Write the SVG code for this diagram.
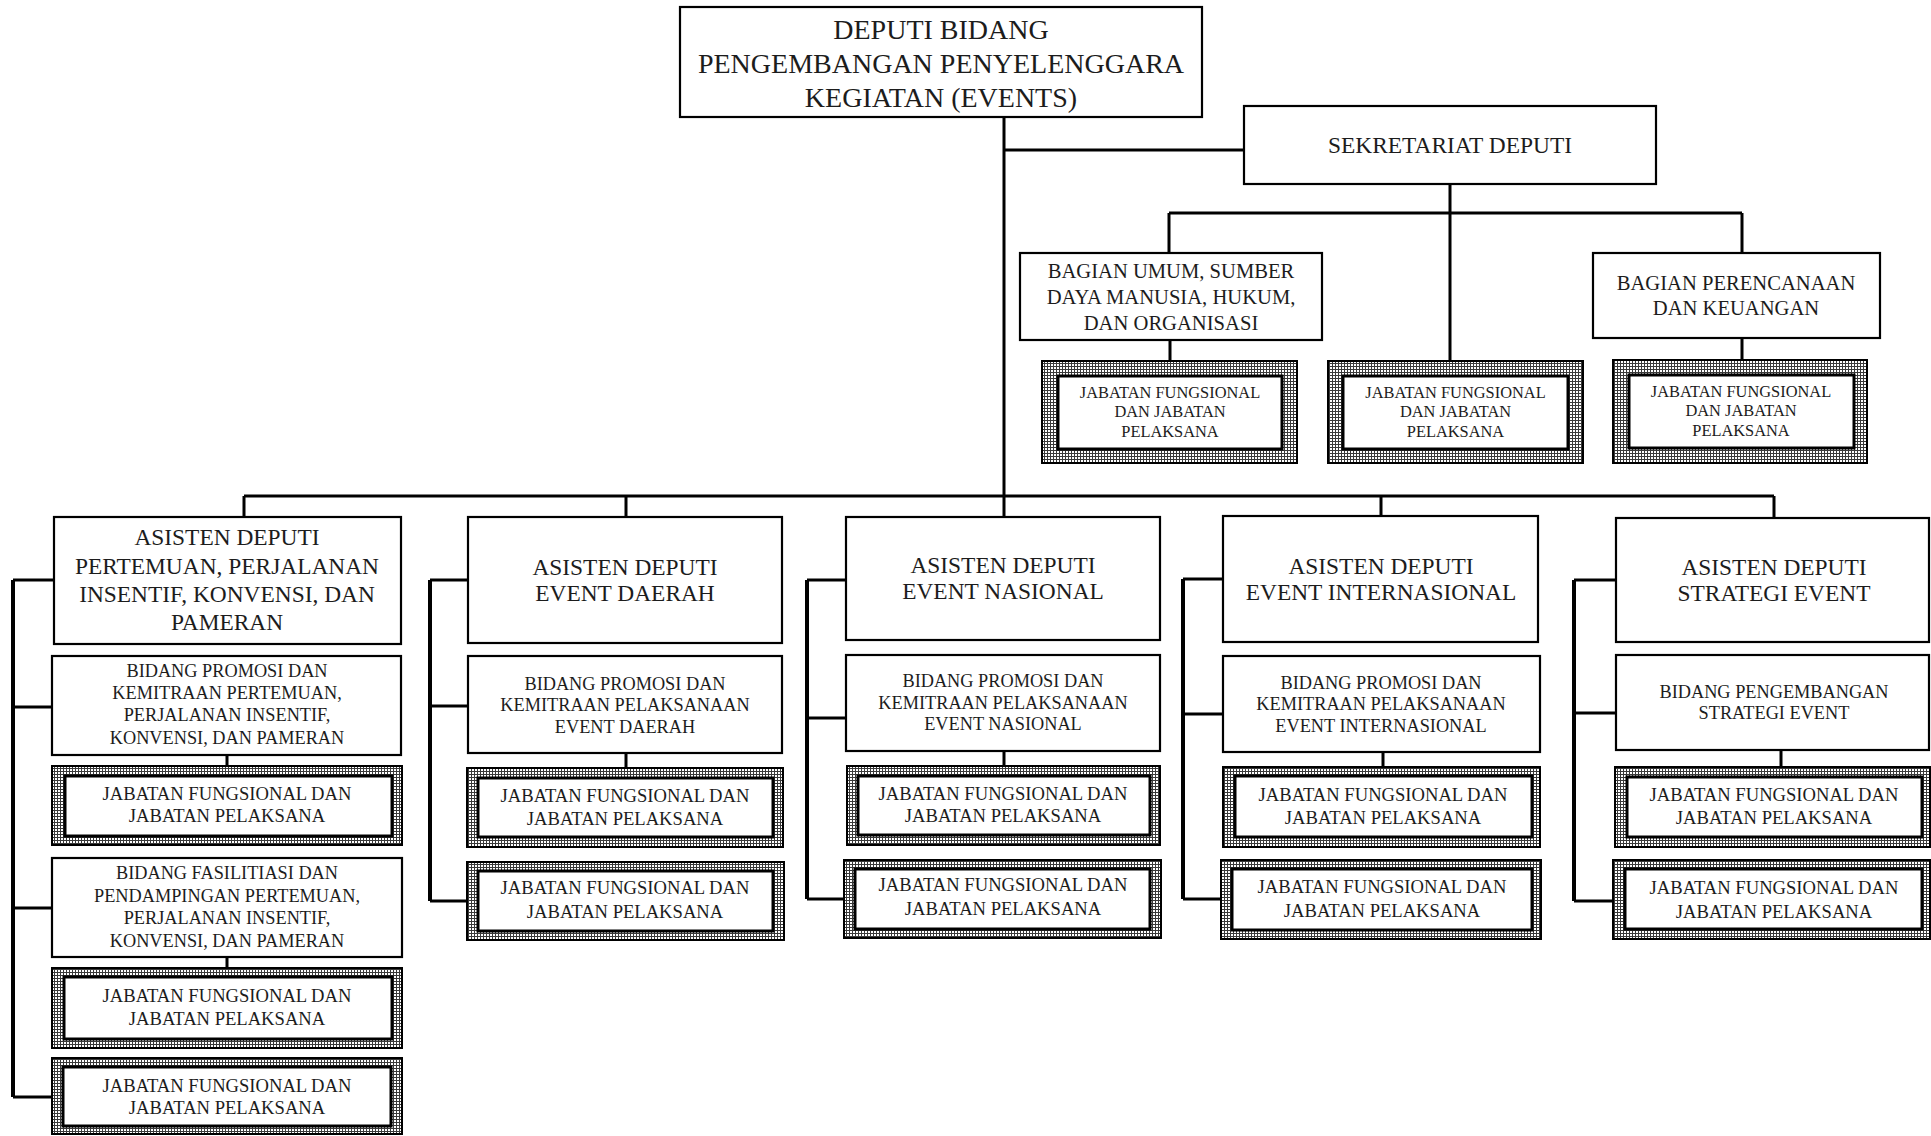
<svg xmlns="http://www.w3.org/2000/svg" width="1931" height="1136" viewBox="0 0 1931 1136">
<defs>
<pattern id="grid" width="3" height="3" patternUnits="userSpaceOnUse">
<rect width="3" height="3" fill="#fff"/>
<path d="M0 0.5H3M0.5 0V3" stroke="#3a3a3a" stroke-width="1"/>
</pattern>
</defs>
<style>
.box{fill:#fff;stroke:#000;stroke-width:2.2}
.hatch{fill:url(#grid);stroke:#000;stroke-width:2}
.inner{fill:#fff;stroke:#000;stroke-width:3}
.c{fill:none;stroke:#000;stroke-width:3}
.sp{fill:none;stroke:#000;stroke-width:4}
text{font-family:"Liberation Serif","Times New Roman",serif;text-anchor:middle;fill:#1c1c1c}
.f28{font-size:28px}
.f23{font-size:23.4px}
.f21{font-size:20.6px}
.f18{font-size:18.3px}
.fj{font-size:18.6px}
.f16{font-size:16.4px}
</style>
<rect width="1931" height="1136" fill="#fff"/>

<g id="connectors">
<path class="c" d="M1004,117V517M1004,150H1244"/>
<path class="c" d="M1450,184V213M1169,213H1742M1169,213V253M1450,213V361M1742,213V253M1170,340V361M1742,338V360"/>
<path class="c" d="M244,496H1774M244,496V517M626,496V517M1381,496V516M1774,496V518"/>
<path class="sp" d="M13,580V1097"/>
<path class="c" d="M13,580H54M13,707H52M13,908H52M13,1097H52M227,755V766M227,957V968"/>
<path class="sp" d="M430,580V901"/>
<path class="c" d="M430,580H468M430,706H468M430,901H467M626,753V768"/>
<path class="sp" d="M807,580V899"/>
<path class="c" d="M807,580H846M807,718H846M807,899H844M1004,751V766"/>
<path class="sp" d="M1183,579V899"/>
<path class="c" d="M1183,579H1223M1183,714H1223M1183,899H1221M1383,752V767"/>
<path class="sp" d="M1574,580V901"/>
<path class="c" d="M1574,580H1616M1574,713H1616M1574,901H1613M1781,750V767"/>
</g>

<g id="deputi">
<rect class="box" x="680" y="7" width="522" height="110"/>
<text class="f28" x="941" y="39">DEPUTI BIDANG</text>
<text class="f28" x="941" y="73">PENGEMBANGAN PENYELENGGARA</text>
<text class="f28" x="941" y="107">KEGIATAN (EVENTS)</text>
</g>

<g id="sekretariat">
<rect class="box" x="1244" y="106" width="412" height="78"/>
<text class="f23" x="1450" y="153">SEKRETARIAT DEPUTI</text>
</g>

<g id="bagian-umum">
<rect class="box" x="1020" y="253" width="302" height="87"/>
<text class="f21" x="1171" y="278">BAGIAN UMUM, SUMBER</text>
<text class="f21" x="1171" y="304">DAYA MANUSIA, HUKUM,</text>
<text class="f21" x="1171" y="330">DAN ORGANISASI</text>
</g>

<g id="bagian-perencanaan">
<rect class="box" x="1593" y="253" width="287" height="85"/>
<text class="f21" x="1736" y="290">BAGIAN PERENCANAAN</text>
<text class="f21" x="1736" y="315">DAN KEUANGAN</text>
</g>

<g id="jf-umum">
<rect class="hatch" x="1042" y="361" width="255" height="102"/>
<rect class="inner" x="1058" y="376" width="224" height="73"/>
<text class="f16" x="1170" y="398">JABATAN FUNGSIONAL</text>
<text class="f16" x="1170" y="417">DAN JABATAN</text>
<text class="f16" x="1170" y="437">PELAKSANA</text>
</g>

<g id="jf-sekretariat">
<rect class="hatch" x="1328" y="361" width="255" height="102"/>
<rect class="inner" x="1343" y="376" width="225" height="73"/>
<text class="f16" x="1455.5" y="398">JABATAN FUNGSIONAL</text>
<text class="f16" x="1455.5" y="417">DAN JABATAN</text>
<text class="f16" x="1455.5" y="437">PELAKSANA</text>
</g>

<g id="jf-perencanaan">
<rect class="hatch" x="1613" y="360" width="254" height="103"/>
<rect class="inner" x="1629" y="375" width="225" height="73"/>
<text class="f16" x="1741" y="397">JABATAN FUNGSIONAL</text>
<text class="f16" x="1741" y="416">DAN JABATAN</text>
<text class="f16" x="1741" y="436">PELAKSANA</text>
</g>

<g id="asdep-ppikp">
<rect class="box" x="54" y="517" width="347" height="127"/>
<text class="f23" x="227" y="545">ASISTEN DEPUTI</text>
<text class="f23" x="227" y="574">PERTEMUAN, PERJALANAN</text>
<text class="f23" x="227" y="602">INSENTIF, KONVENSI, DAN</text>
<text class="f23" x="227" y="630">PAMERAN</text>
</g>

<g id="bidang-promosi-ppikp">
<rect class="box" x="52" y="656" width="349" height="99"/>
<text class="f18" x="227" y="677">BIDANG PROMOSI DAN</text>
<text class="f18" x="227" y="699">KEMITRAAN PERTEMUAN,</text>
<text class="f18" x="227" y="721">PERJALANAN INSENTIF,</text>
<text class="f18" x="227" y="744">KONVENSI, DAN PAMERAN</text>
</g>

<g id="jf-ppikp-1">
<rect class="hatch" x="52" y="766" width="350" height="79"/>
<rect class="inner" x="65" y="776" width="327" height="60"/>
<text class="fj" x="227" y="800">JABATAN FUNGSIONAL DAN</text>
<text class="fj" x="227" y="822">JABATAN PELAKSANA</text>
</g>

<g id="bidang-fasilitasi-ppikp">
<rect class="box" x="52" y="858" width="350" height="99"/>
<text class="f18" x="227" y="879">BIDANG FASILITIASI DAN</text>
<text class="f18" x="227" y="902">PENDAMPINGAN PERTEMUAN,</text>
<text class="f18" x="227" y="924">PERJALANAN INSENTIF,</text>
<text class="f18" x="227" y="947">KONVENSI, DAN PAMERAN</text>
</g>

<g id="jf-ppikp-2">
<rect class="hatch" x="52" y="968" width="350" height="80"/>
<rect class="inner" x="64" y="977" width="328" height="62"/>
<text class="fj" x="227" y="1002">JABATAN FUNGSIONAL DAN</text>
<text class="fj" x="227" y="1025">JABATAN PELAKSANA</text>
</g>

<g id="jf-ppikp-3">
<rect class="hatch" x="52" y="1058" width="350" height="76"/>
<rect class="inner" x="63" y="1067" width="328" height="59"/>
<text class="fj" x="227" y="1092">JABATAN FUNGSIONAL DAN</text>
<text class="fj" x="227" y="1114">JABATAN PELAKSANA</text>
</g>

<g id="asdep-daerah">
<rect class="box" x="468" y="517" width="314" height="126"/>
<text class="f23" x="625" y="575">ASISTEN DEPUTI</text>
<text class="f23" x="625" y="601">EVENT DAERAH</text>
</g>

<g id="bidang-daerah">
<rect class="box" x="468" y="656" width="314" height="97"/>
<text class="f18" x="625" y="690">BIDANG PROMOSI DAN</text>
<text class="f18" x="625" y="711">KEMITRAAN PELAKSANAAN</text>
<text class="f18" x="625" y="733">EVENT DAERAH</text>
</g>

<g id="jf-daerah-1">
<rect class="hatch" x="467" y="768" width="316" height="79"/>
<rect class="inner" x="478" y="778" width="295" height="59"/>
<text class="fj" x="625" y="802">JABATAN FUNGSIONAL DAN</text>
<text class="fj" x="625" y="825">JABATAN PELAKSANA</text>
</g>

<g id="jf-daerah-2">
<rect class="hatch" x="467" y="862" width="317" height="78"/>
<rect class="inner" x="478" y="871" width="295" height="60"/>
<text class="fj" x="625" y="894">JABATAN FUNGSIONAL DAN</text>
<text class="fj" x="625" y="918">JABATAN PELAKSANA</text>
</g>

<g id="asdep-nasional">
<rect class="box" x="846" y="517" width="314" height="123"/>
<text class="f23" x="1003" y="573">ASISTEN DEPUTI</text>
<text class="f23" x="1003" y="599">EVENT NASIONAL</text>
</g>

<g id="bidang-nasional">
<rect class="box" x="846" y="655" width="314" height="96"/>
<text class="f18" x="1003" y="687">BIDANG PROMOSI DAN</text>
<text class="f18" x="1003" y="709">KEMITRAAN PELAKSANAAN</text>
<text class="f18" x="1003" y="730">EVENT NASIONAL</text>
</g>

<g id="jf-nasional-1">
<rect class="hatch" x="847" y="766" width="313" height="79"/>
<rect class="inner" x="858" y="776" width="292" height="59"/>
<text class="fj" x="1003" y="800">JABATAN FUNGSIONAL DAN</text>
<text class="fj" x="1003" y="822">JABATAN PELAKSANA</text>
</g>

<g id="jf-nasional-2">
<rect class="hatch" x="844" y="860" width="317" height="78"/>
<rect class="inner" x="855" y="869" width="295" height="60"/>
<text class="fj" x="1003" y="891">JABATAN FUNGSIONAL DAN</text>
<text class="fj" x="1003" y="915">JABATAN PELAKSANA</text>
</g>

<g id="asdep-internasional">
<rect class="box" x="1223" y="516" width="315" height="126"/>
<text class="f23" x="1381" y="574">ASISTEN DEPUTI</text>
<text class="f23" x="1381" y="600">EVENT INTERNASIONAL</text>
</g>

<g id="bidang-internasional">
<rect class="box" x="1223" y="656" width="317" height="96"/>
<text class="f18" x="1381" y="689">BIDANG PROMOSI DAN</text>
<text class="f18" x="1381" y="710">KEMITRAAN PELAKSANAAN</text>
<text class="f18" x="1381" y="732">EVENT INTERNASIONAL</text>
</g>

<g id="jf-internasional-1">
<rect class="hatch" x="1223" y="767" width="317" height="80"/>
<rect class="inner" x="1235" y="776" width="297" height="61"/>
<text class="fj" x="1383" y="801">JABATAN FUNGSIONAL DAN</text>
<text class="fj" x="1383" y="824">JABATAN PELAKSANA</text>
</g>

<g id="jf-internasional-2">
<rect class="hatch" x="1221" y="860" width="320" height="79"/>
<rect class="inner" x="1232" y="869" width="300" height="61"/>
<text class="fj" x="1382" y="893">JABATAN FUNGSIONAL DAN</text>
<text class="fj" x="1382" y="917">JABATAN PELAKSANA</text>
</g>

<g id="asdep-strategi">
<rect class="box" x="1616" y="518" width="313" height="124"/>
<text class="f23" x="1774" y="575">ASISTEN DEPUTI</text>
<text class="f23" x="1774" y="601">STRATEGI EVENT</text>
</g>

<g id="bidang-strategi">
<rect class="box" x="1616" y="655" width="313" height="95"/>
<text class="f18" x="1774" y="698">BIDANG PENGEMBANGAN</text>
<text class="f18" x="1774" y="719">STRATEGI EVENT</text>
</g>

<g id="jf-strategi-1">
<rect class="hatch" x="1615" y="767" width="315" height="80"/>
<rect class="inner" x="1627" y="777" width="295" height="60"/>
<text class="fj" x="1774" y="801">JABATAN FUNGSIONAL DAN</text>
<text class="fj" x="1774" y="824">JABATAN PELAKSANA</text>
</g>

<g id="jf-strategi-2">
<rect class="hatch" x="1613" y="860" width="317" height="79"/>
<rect class="inner" x="1625" y="869" width="297" height="60"/>
<text class="fj" x="1774" y="894">JABATAN FUNGSIONAL DAN</text>
<text class="fj" x="1774" y="918">JABATAN PELAKSANA</text>
</g>
</svg>
